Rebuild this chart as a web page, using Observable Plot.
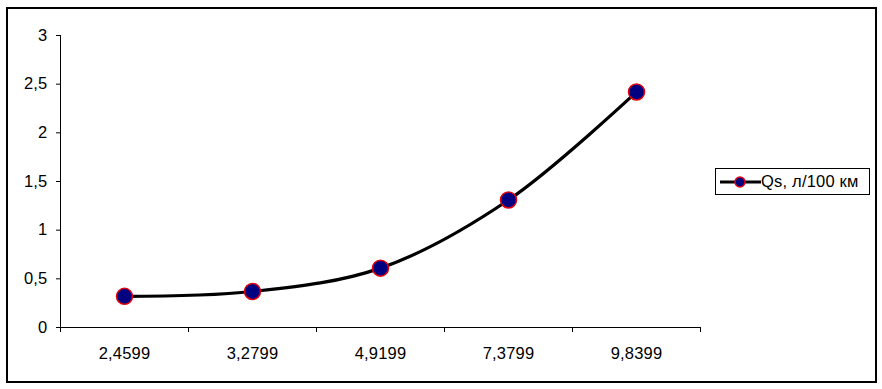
<!DOCTYPE html>
<html>
<head>
<meta charset="utf-8">
<script src="https://cdn.jsdelivr.net/npm/d3@7"></script>
<script src="https://cdn.jsdelivr.net/npm/@observablehq/plot@0.6"></script>
<style>
  body { margin: 0; background: #fff; font-family: "Liberation Sans", Arial, sans-serif; }
  #wrap { position: relative; width: 882px; height: 389px; overflow: hidden; }
  #frame { position: absolute; left: 6px; top: 7px; width: 871px; height: 376px; box-sizing: border-box; border: 2px solid #000; pointer-events: none; }
  #legend { position: absolute; left: 715px; top: 168px; width: 155px; height: 27px; box-sizing: border-box; border: 1px solid #000; background: #fff; display: flex; align-items: center; font-size: 16.5px; letter-spacing: 0.2px; color: #000; }
  #legend svg { display: block; margin-left: 4px; }
  #chart { position: absolute; left: 0; top: 0; }
</style>
</head>
<body>
<div id="wrap">
  <div id="chart"></div>
  <div id="frame"></div>
  <div id="legend"></div>
</div>
<script>
const categories = ["2,4599", "3,2799", "4,9199", "7,3799", "9,8399"];
const values = [0.32, 0.37, 0.61, 1.31, 2.42];
const yTicks = [0, 0.5, 1, 1.5, 2, 2.5, 3];
const seriesName = "Qs, л/100 км";

const data = categories.map((c, i) => ({i, c, v: values[i]}));
const boundaries = d3.range(categories.length + 1).map(i => i - 0.5);
const fmt = d => String(d).replace(".", ",");

const chart = Plot.plot({
  width: 882,
  height: 389,
  marginLeft: 60,
  marginRight: 182,
  marginTop: 35,
  marginBottom: 62,
  x: {domain: [-0.5, categories.length - 0.5], label: null},
  y: {domain: [0, 3], label: null},
  style: {fontFamily: "'Liberation Sans', Arial, sans-serif", fontSize: "16.5px", color: "#000", background: "transparent", letterSpacing: "0.2px"},
  marks: [
    Plot.ruleX([-0.5], {stroke: "#000", strokeWidth: 1}),
    Plot.ruleY([0], {stroke: "#000", strokeWidth: 1}),
    Plot.axisY({ticks: yTicks, tickSize: 4, tickPadding: 9, tickFormat: fmt, stroke: "#000", strokeOpacity: 1, fontSize: 16.5, label: null}),
    Plot.axisX({ticks: boundaries, tickSize: 5, tickFormat: () => "", stroke: "#000", strokeOpacity: 1, label: null}),
    Plot.axisX({ticks: d3.range(categories.length), tickSize: 0, tickPadding: 20, tickFormat: i => categories[i], fontSize: 16.5, label: null}),
    Plot.line(data, {x: "i", y: "v", curve: "catmull-rom", stroke: "#000", strokeWidth: 3.2}),
    Plot.dot(data, {x: "i", y: "v", r: 8, fill: "#000080", stroke: "#e00010", strokeWidth: 1.5})
  ]
});
document.getElementById("chart").appendChild(chart);

const legend = document.getElementById("legend");
const ls = d3.create("svg").attr("width", 41).attr("height", 14);
ls.append("line").attr("x1", 0).attr("x2", 41).attr("y1", 7).attr("y2", 7).attr("stroke", "#000").attr("stroke-width", 3);
ls.append("circle").attr("cx", 20).attr("cy", 7).attr("r", 5).attr("fill", "#000080").attr("stroke", "#e00010").attr("stroke-width", 1.5);
legend.appendChild(ls.node());
const lt = document.createElement("span");
lt.textContent = seriesName;
legend.appendChild(lt);
</script>
</body>
</html>
